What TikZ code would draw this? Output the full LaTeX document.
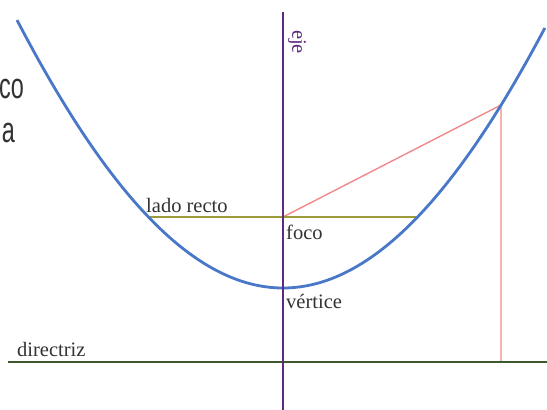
\documentclass[tikz,border=0pt]{standalone}
\usepackage{fontspec}
\setmainfont{Liberation Serif}
\newfontfamily\slidefont{Liberation Sans}
\definecolor{parabblue}{HTML}{4A78C8}
\definecolor{axpurple}{HTML}{5E2A80}
\definecolor{ladoolive}{HTML}{9C9A3A}
\definecolor{dirgreen}{HTML}{3C5A2C}
\definecolor{redline}{HTML}{F08A8A}
\definecolor{labelgray}{HTML}{333333}
\begin{document}
\begin{tikzpicture}[x=1pt,y=1pt,
  lbl/.style={font=\fontsize{20.5}{23}\selectfont, text=labelgray, inner sep=0pt},
  slide/.style={font=\slidefont\fontsize{36}{42}\selectfont, text=labelgray, inner sep=0pt, xscale=0.65},
  parab/.style={draw=parabblue, line width=2.8pt},
  axisline/.style={draw=axpurple, line width=2.4pt},
  ladoline/.style={draw=ladoolive, line width=2.8pt},
  dirline/.style={draw=dirgreen, line width=2.8pt},
  rayline/.style={draw=redline, line width=1.4pt}]
\useasboundingbox (0,0) rectangle (547,410);
\clip (0,0) rectangle (547,410);
\fill[white] (0,0) rectangle (547,410);
% key points
\coordinate (F) at (283,193);
\coordinate (V) at (283,122);
\coordinate (P) at (501,305);
\coordinate (D) at (501,48);
\coordinate (axtop) at (283,398);
\coordinate (axbot) at (283,0);
\coordinate (LL) at (148,193);
\coordinate (LR) at (417,193);
\coordinate (dirL) at (8,48);
\coordinate (dirR) at (547,48);
% partial slide text
\node[slide, anchor=base east] (co) at (24,311) {co};
\node[slide, anchor=base east] (aa) at (15,267) {a};
% red lines
\draw[rayline] (F) -- (P) -- (D);
% lado recto
\draw[ladoline] (LL) -- (LR);
% directriz
\draw[dirline] (dirL) -- (dirR);
% parabola
\draw[parab] plot[domain=-2.66:2.62, samples=120, smooth]
  ({283+100*\x},{122+39.68*\x*\x-0.256*\x*\x*\x*\x});
% axis
\draw[axisline] (axtop) -- (axbot);
% labels
\node[lbl, anchor=base west] (lr) at (146,197) {lado recto};
\node[lbl, anchor=base west] (fo) at (286,170) {foco};
\node[lbl, anchor=base west] (ve) at (286,101) {vértice};
\node[lbl, anchor=base west] (di) at (17,53) {directriz};
\node[lbl, text=axpurple, rotate=-90] (ej) at (297,368) {eje};
\end{tikzpicture}
\end{document}
